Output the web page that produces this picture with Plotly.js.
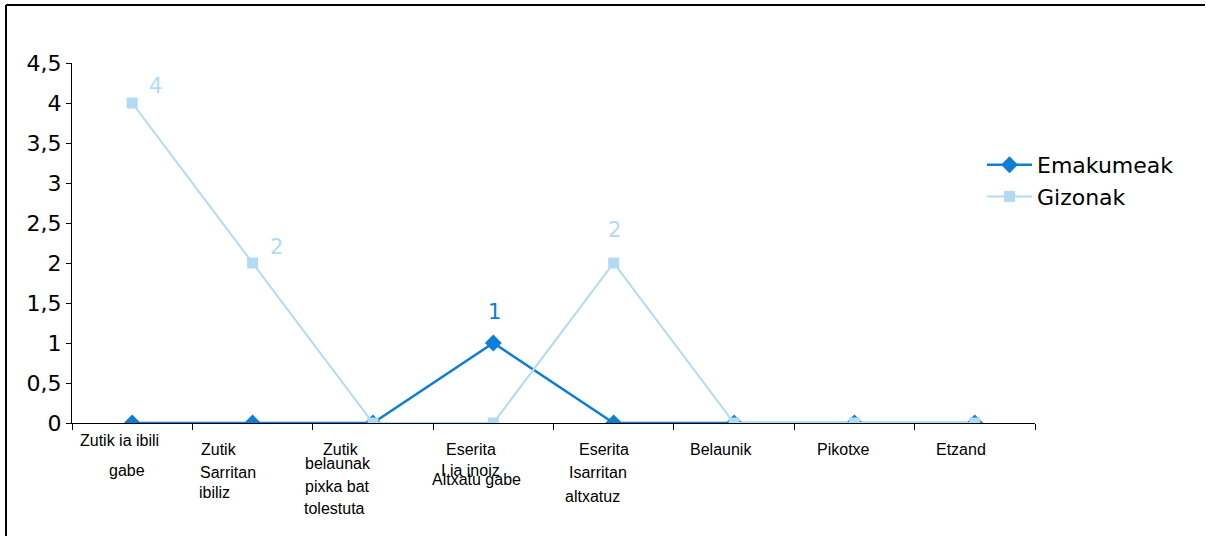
<!DOCTYPE html>
<html>
<head>
<meta charset="utf-8">
<script src="https://cdn.plot.ly/plotly-3.0.1.min.js"></script>
<style>html,body{margin:0;padding:0;background:#fff}#chart{width:1206px;height:536px}</style>
</head>
<body>
<div id="chart"></div>
<script>
// ---- data ----
var categories = ["Zutik ia ibili gabe","Zutik Sarritan ibiliz","Zutik belaunak pixka bat tolestuta","Eserita I ia inoiz Altxatu gabe","Eserita Isarritan altxatuz","Belaunik","Pikotxe","Etzand"];
var tickLabelLines = [
  ["Zutik ia ibili","gabe"],
  ["Zutik","Sarritan","ibiliz"],
  ["Zutik","belaunak","pixka bat","tolestuta"],
  ["Eserita","I ia inoiz","Altxatu gabe"],
  ["Eserita","Isarritan","altxatuz"],
  ["Belaunik"],
  ["Pikotxe"],
  ["Etzand"]
];
var emakumeak = [0,0,0,1,0,0,0,0];
var gizonak   = [4,2,0,0,2,0,0,0];
var seriesNames = ["Emakumeak","Gizonak"];

// ---- layout helpers (positions / styles) ----
var L = 72, T = 63, PW = 963, PH = 360, W = 1206, H = 536;
var catW = PW / categories.length;
// per tick line: [x centre px, baseline px]
var tickLinePos = [
  [[119.5,446],[127,476]],
  [[219.5,455],[228,478],[215,498]],
  [[341,455],[337.5,469],[337,492],[334.5,514]],
  [[471,455],[471,476],[476.5,485]],
  [[603.5,455],[598,478],[592.5,502]],
  [[721,455]],
  [[843,455]],
  [[961,455]]
];
// data label offsets [dx, dy] relative to point
var darkBlue = "#0C7ED6", lightBlue = "#B3DAF3";
var labelOffsetsG = [[23,-17],[24,-16],null,null,[1,-33],null,null,null];
var labelOffsetsE = [null,null,null,[1,-31],null,null,null,null];

var xIdx = categories.map(function(_, i){ return i; });

var traces = [
  {x: xIdx, y: emakumeak, name: seriesNames[0], type: "scatter", mode: "lines+markers",
   line: {color: darkBlue, width: 2.5}, marker: {symbol: "diamond", size: 13, color: darkBlue}},
  {x: xIdx, y: gizonak, name: seriesNames[1], type: "scatter", mode: "lines+markers",
   line: {color: lightBlue, width: 2}, marker: {symbol: "square", size: 11, color: lightBlue}}
];

var annotations = [];
tickLabelLines.forEach(function(lines, ci){
  lines.forEach(function(txt, li){
    var p = tickLinePos[ci][li];
    var catCentre = L + (ci + 0.5) * catW;
    annotations.push({
      x: ci, xref: "x", y: 0, yref: "y", text: txt, showarrow: false,
      xanchor: "center", yanchor: "middle",
      xshift: p[0] - catCentre, yshift: -((p[1] - 5.5) - (T + PH)),
      font: {family: "Liberation Sans, Arial, sans-serif", size: 16, color: "#000"}
    });
  });
});
function addValueLabels(vals, offs, color){
  vals.forEach(function(v, i){
    if (!offs[i]) return;
    annotations.push({
      x: i, xref: "x", y: v, yref: "y", text: String(v), showarrow: false,
      xanchor: "center", yanchor: "middle", xshift: offs[i][0], yshift: -offs[i][1],
      font: {family: "DejaVu Sans, Verdana, sans-serif", size: 21, color: color}
    });
  });
}
addValueLabels(gizonak, labelOffsetsG, lightBlue);
addValueLabels(emakumeak, labelOffsetsE, darkBlue);

function px2x(px){ return (px - L) / PW; }
function px2y(py){ return (T + PH - py) / PH; }

var layout = {
  width: W, height: H,
  margin: {l: L, r: W - L - PW, t: T, b: H - T - PH, pad: 0},
  paper_bgcolor: "#fff", plot_bgcolor: "#fff",
  separators: ",.",
  showlegend: true,
  legend: {x: px2x(982), y: px2y(144), xanchor: "left", yanchor: "top",
           font: {family: "DejaVu Sans, Verdana, sans-serif", size: 22, color: "#000"},
           bgcolor: "rgba(0,0,0,0)", itemwidth: 45, tracegroupgap: 0},
  xaxis: {range: [-0.5, categories.length - 0.5], tickmode: "array",
          tickvals: xIdx.map(function(i){ return i - 0.5; }).concat([categories.length - 0.5]),
          showticklabels: false, ticks: "outside", ticklen: 6, tickcolor: "#000",
          showline: true, linecolor: "#000", linewidth: 1, showgrid: false, zeroline: false, fixedrange: true},
  yaxis: {range: [0, 4.5], dtick: 0.5, tick0: 0, ticks: "outside", ticklen: 5, tickcolor: "#000",
          showline: true, linecolor: "#000", linewidth: 1, showgrid: false, zeroline: false,
          tickfont: {family: "DejaVu Sans, Verdana, sans-serif", size: 22, color: "#000"}, fixedrange: true},
  annotations: annotations,
  shapes: [
    {type: "line", xref: "paper", yref: "paper", x0: px2x(6), x1: px2x(1205), y0: px2y(5), y1: px2y(5),
     line: {color: "#000", width: 2}},
    {type: "line", xref: "paper", yref: "paper", x0: px2x(6), x1: px2x(6), y0: px2y(5), y1: px2y(540),
     line: {color: "#000", width: 2}}
  ]
};

Plotly.newPlot("chart", traces, layout, {displayModeBar: false, staticPlot: true});
</script>
</body>
</html>
